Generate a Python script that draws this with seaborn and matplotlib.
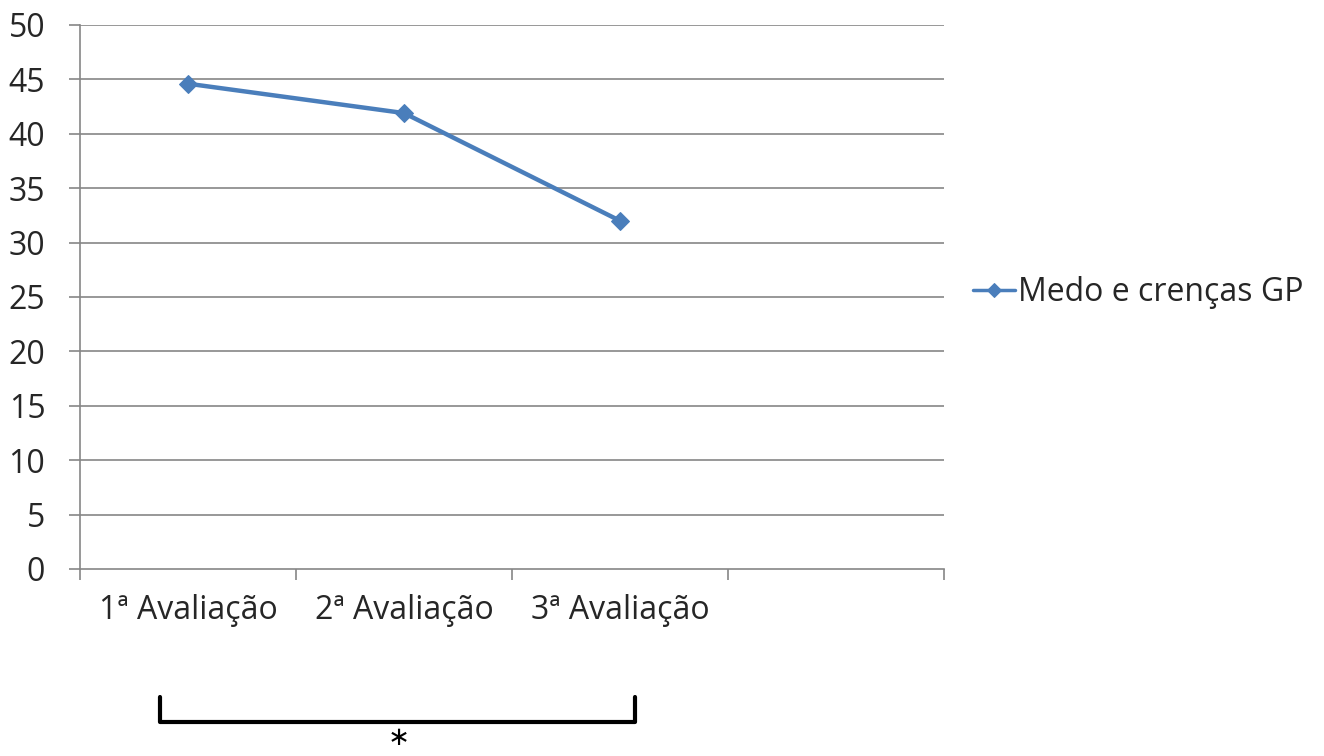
import matplotlib
matplotlib.use("Agg")
import matplotlib.pyplot as plt
import numpy as np
import pandas as pd
import seaborn as sns

sns.set_style("white")
plt.rcParams['font.family'] = ['Open Sans', 'DejaVu Sans']
plt.rcParams.update({'font.size': 23})

# dados
avaliacoes = ["1ª Avaliação", "2ª Avaliação", "3ª Avaliação"]
medo_crencas_gp = [44.6, 41.9, 32.0]
serie_nome = "Medo e crenças GP"

df = pd.DataFrame({"avaliacao": avaliacoes, "valor": medo_crencas_gp})
df["pos"] = np.arange(len(avaliacoes))

fig = plt.figure(figsize=(13.24, 7.56), dpi=100)
ax = fig.add_axes([0.0604, 0.2474, 0.6526, 0.7196])

grid_color = "#868686"
for v in range(5, 51, 5):
    ax.axhline(v, color=grid_color, lw=1.2, zorder=0)

sns.lineplot(data=df, x="pos", y="valor", ax=ax, color="#4A7EBB", lw=3.2,
             marker="D", markersize=9, markeredgecolor="#4A7EBB",
             label=serie_nome, zorder=3)

ax.set_ylim(0, 50)
ax.set_xlim(-0.5, 3.5)
ax.set_yticks(range(0, 51, 5))
ax.set_xticks(np.arange(-0.5, 4, 1))
ax.set_xticklabels([])
ax.set_xticks(df["pos"], minor=True)
ax.set_xticklabels(avaliacoes, minor=True)
ax.tick_params(axis="x", which="major", direction="out", length=8, width=1.2,
               color=grid_color, bottom=True)
ax.tick_params(axis="x", which="minor", length=0, pad=18, labelsize=23)
ax.tick_params(axis="y", direction="out", length=8, width=1.2, color=grid_color,
               left=True, pad=17, labelsize=23)
ax.set_xlabel("")
ax.set_ylabel("")

for s in ["top", "right"]:
    ax.spines[s].set_visible(False)
for s in ["left", "bottom"]:
    ax.spines[s].set_color(grid_color)
    ax.spines[s].set_linewidth(1.2)

leg = ax.legend(loc="center left", bbox_to_anchor=(1.034, 0.508), frameon=False,
                borderpad=0, borderaxespad=0,
                handlelength=1.3, handletextpad=0.1, fontsize=23)
for h in leg.get_lines():
    h.set_linewidth(2.5)
    h.set_markersize(7)

# chave de significância entre 1ª e 3ª avaliação
trans = ax.get_xaxis_transform()
ax.plot([-0.13, -0.13, 2.07, 2.07], [-0.235, -0.281, -0.281, -0.235],
        transform=trans, color="black", lw=3, clip_on=False)
ax.text(0.97, -0.312, r"$\ast$", transform=trans, ha="center", va="center",
        fontsize=19, color="black")

fig.savefig("out.png", dpi=100)
